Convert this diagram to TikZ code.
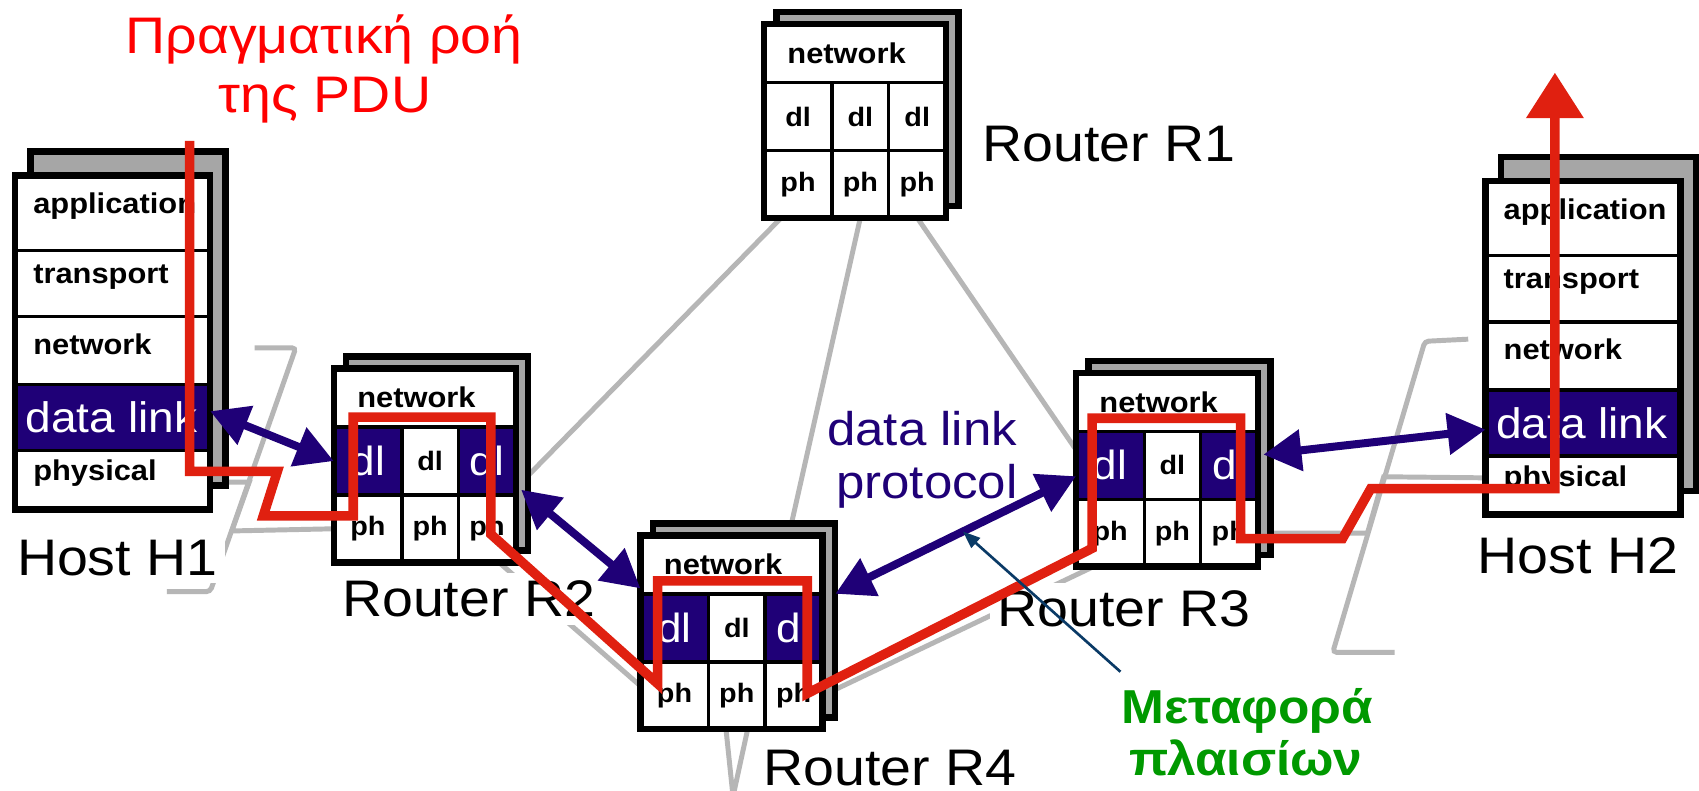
\documentclass[tikz,border=0pt]{standalone}
\usepackage{fontspec}
\setmainfont{Liberation Sans}[FakeStretch=1.08]
\usetikzlibrary{arrows.meta}

\definecolor{dlnavy}{RGB}{31,0,119}
\definecolor{pdured}{RGB}{224,32,16}
\definecolor{titlered}{RGB}{255,0,0}
\definecolor{linkgray}{RGB}{182,182,182}
\definecolor{shadegray}{RGB}{166,166,166}
\definecolor{framegreen}{RGB}{0,153,0}
\definecolor{notenavy}{RGB}{10,58,102}

\pgfdeclarelayer{links}
\pgfsetlayers{links,main}

\tikzset{
  backbox/.style={draw=black, line width=1.7pt, fill=shadegray},
  boxedge/.style={draw=black, line width=1.7pt},
  cell/.style={draw=black, line width=0.9pt, fill=white, inner sep=0pt, outer sep=0pt,
    anchor=north west, font=\fontsize{7}{8}\selectfont\bfseries},
  plaincell/.style={cell},
  darkcell/.style={cell, fill=dlnavy, text=white, font=\fontsize{10.7}{12}\selectfont},
  layertxt/.style={inner sep=0pt, anchor=west, font=\fontsize{7.5}{9}\selectfont\bfseries},
  bandtxt/.style={inner sep=0pt, anchor=west, text=white, font=\fontsize{11.2}{13}\selectfont},
  boxlabel/.style={anchor=base west, fill=white, inner sep=0.7mm, font=\fontsize{13.5}{16}\selectfont},
  link/.style={draw=linkgray, line width=1.3pt},
  dlarrow/.style={draw=dlnavy, line width=2.1pt,
    {Triangle[length=3.5mm,width=3.7mm]}-{Triangle[length=3.5mm,width=3.7mm]}},
  pdu/.style={draw=pdured, line width=2.5pt},
  titletxt/.style={anchor=base, inner sep=0pt, text=titlered, font=\fontsize{13.5}{15}\selectfont},
  prototxt/.style={anchor=base, inner sep=0pt, text=dlnavy, font=\fontsize{12.4}{14}\selectfont},
  greentxt/.style={anchor=base, inner sep=0pt, text=framegreen, font=\fontsize{12.5}{14}\selectfont\bfseries},
  note/.style={draw=notenavy, line width=0.7pt, -{Triangle[length=1.6mm,width=1.2mm]}},
}

% host: name, x, y of the front box (top left)
\newcommand{\hoststack}[3]{%
  \draw[backbox] (#2+0.14,#3-0.22) rectangle ++(1.80,3.08);
  \node[cell, minimum width=1.80cm, minimum height=0.69cm] (#1-app) at (#2,#3) {};
  \node[cell, minimum width=1.80cm, minimum height=0.61cm] (#1-trn) at (#1-app.south west) {};
  \node[cell, minimum width=1.80cm, minimum height=0.63cm] (#1-net) at (#1-trn.south west) {};
  \node[cell, fill=dlnavy, minimum width=1.80cm, minimum height=0.61cm] (#1-dl) at (#1-net.south west) {};
  \node[cell, minimum width=1.80cm, minimum height=0.54cm] (#1-phy) at (#1-dl.south west) {};
  \node[layertxt] at ([xshift=1.6mm,yshift=0.6mm]#1-app.west) {application};
  \node[layertxt] at ([xshift=1.6mm,yshift=0.6mm]#1-trn.west) {transport};
  \node[layertxt] at ([xshift=1.6mm,yshift=0.6mm]#1-net.west) {network};
  \node[bandtxt] at ([xshift=0.9mm]#1-dl.west) {data link};
  \node[layertxt] at ([xshift=1.6mm,yshift=0.6mm]#1-phy.west) {physical};
  \draw[boxedge] (#2,#3) rectangle ++(1.80,3.08);
}

% router: name, x, y of the front box, style of the two outer dl cells
\newcommand{\routerstack}[4]{%
  \draw[backbox] (#2+0.115,#3-0.11) rectangle ++(1.68,1.79);
  \node[cell, minimum width=1.68cm, minimum height=0.54cm] (#1-net) at (#2,#3) {};
  \node[layertxt] at ([xshift=2.1mm]#1-net.west) {network};
  \node[#4, minimum width=0.63cm, minimum height=0.63cm] (#1-dl1) at (#1-net.south west) {dl};
  \node[plaincell, minimum width=0.52cm, minimum height=0.63cm] (#1-dl2) at (#1-dl1.north east) {dl};
  \node[#4, minimum width=0.53cm, minimum height=0.63cm] (#1-dl3) at (#1-dl2.north east) {dl};
  \node[cell, minimum width=0.63cm, minimum height=0.62cm] (#1-ph1) at (#1-dl1.south west) {ph};
  \node[cell, minimum width=0.52cm, minimum height=0.62cm] (#1-ph2) at (#1-ph1.north east) {ph};
  \node[cell, minimum width=0.53cm, minimum height=0.62cm] (#1-ph3) at (#1-ph2.north east) {ph};
  \draw[boxedge] (#2,#3) rectangle ++(1.68,1.79);
}

\begin{document}
\begin{tikzpicture}[x=1cm, y=-1cm]
\useasboundingbox (0,0) rectangle (15.68,7.30);
\begin{pgfonlayer}{links}
  \fill[white] (0,0) rectangle (15.68,7.30);
\end{pgfonlayer}

% the stacks
\hoststack{h1}{0.14}{1.62}
\hoststack{h2}{13.71}{1.67}
\routerstack{r1}{7.05}{0.22}{plaincell}
\routerstack{r2}{3.08}{3.40}{darkcell}
\routerstack{r4}{5.91}{4.94}{darkcell}
\routerstack{r3}{9.93}{3.44}{darkcell}

\node[boxlabel] (h1lbl) at (0.08,5.31) {Host H1};
\node[boxlabel] (h2lbl) at (13.56,5.29) {Host H2};
\node[boxlabel] (r1lbl) at (8.99,1.49) {Router R1};
\node[boxlabel] (r2lbl) at (3.08,5.69) {Router R2};
\node[boxlabel] (r3lbl) at (9.13,5.78) {Router R3};
\node[boxlabel] (r4lbl) at (6.97,7.25) {Router R4};

% physical links, behind everything
\begin{pgfonlayer}{links}
  \draw[link] ([xshift=-1.55mm]r1-ph1.south) -- ([yshift=-2.5mm]r2-dl3.east);
  \draw[link] (r1-ph2.south) -- ([xshift=-3.1mm]r4-net.north east);
  \draw[link] (r1-ph3.south) -- ([yshift=1.45mm]r3-dl1.west);
  \draw[link] ([yshift=-0.2mm]h1-phy.east) -- (2.30,4.45) -- (2.14,4.90) -- (r2-ph1.west);
  \draw[link] ([xshift=1.1mm]r2-ph3.south) -- ([yshift=0.9mm]r4-ph1.west);
  \draw[link] (r4-ph3.east) -- ([xshift=1.6mm]r3-ph1.south west);
  \draw[link] (r3-ph3.east) -- (12.62,4.92) -- (12.77,4.40) -- ([yshift=0.7mm]h2-phy.west);
  \coordinate (r4-drop) at (6.765,7.35);
  \draw[link] ([xshift=-1mm]r4-ph2.south) -- (r4-drop) -- ([xshift=1mm]r4-ph2.south);
  \draw[link, rounded corners=1pt] (2.35,3.21) -- (2.73,3.21) -- (1.94,5.46) -- (1.54,5.46);
  \draw[link, rounded corners=1pt] (13.55,3.13) -- (13.15,3.15) -- (12.30,6.02) -- (12.87,6.02);
\end{pgfonlayer}

% data link protocol
\draw[dlarrow] ([yshift=0.6mm]h1-dl.east) -- (r2-dl1.west);
\draw[dlarrow] ([shift={(0.5mm,0.5mm)}]r2-dl3.south east) -- ([yshift=0.5mm]r4-dl1.north west);
\draw[dlarrow] ([xshift=1.2mm]r4-dl3.north east) -- ([yshift=-1mm]r3-dl1.west) coordinate[pos=0.53] (a3mid);
\draw[dlarrow] ([shift={(0.5mm,1mm)}]r3-dl3.east) -- ([yshift=-0.6mm]h2-dl.west);

% real flow of the PDU
\coordinate (pdu-in) at (1.75,1.30);
\coordinate (pdu-out) at (14.35,0.67);
\draw[pdu, -{Triangle[length=4.2mm,width=5.1mm]}]
  (pdu-in) -- (1.75,4.35) -- (2.56,4.35) -- (2.43,4.76) -- (3.26,4.76)
  -- (3.26,3.85) -- (4.53,3.85) -- (4.53,4.93) -- (6.07,6.31) -- (6.07,5.36)
  -- (7.45,5.36) -- (7.45,6.40) -- (10.08,5.06) -- (10.08,3.86) -- (11.45,3.86)
  -- (11.45,4.97) -- (12.39,4.97) -- (12.65,4.51) -- (14.35,4.51) -- (pdu-out);

\node[titletxt] (title1) at (2.99,0.49) {Πραγματική ροή};
\node[titletxt] (title2) at (3.00,1.04) {της PDU};
\node[prototxt] (proto1) at (8.51,4.11) {data link};
\node[prototxt] (proto2) at (8.555,4.60) {protocol};
\node[greentxt] (green1) at (11.51,6.68) {Μεταφορά};
\node[greentxt] (green2) at (11.50,7.16) {πλαισίων};
\draw[note] ([yshift=1.5mm]green1.north west) -- (a3mid);

\end{tikzpicture}
\end{document}
